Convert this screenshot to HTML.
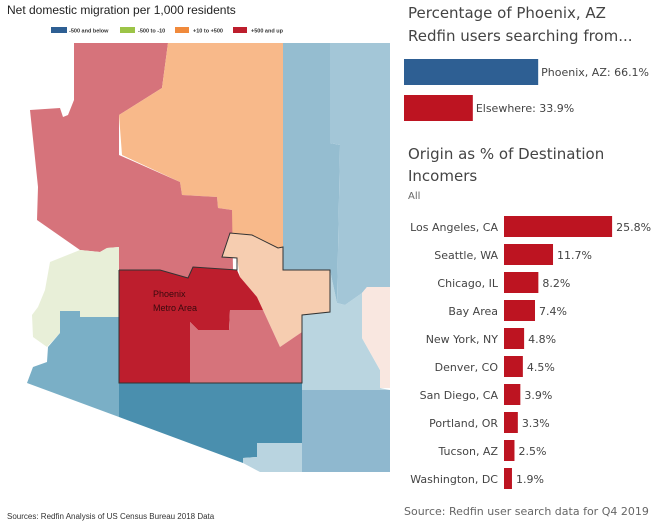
<!DOCTYPE html>
<html><head><meta charset="utf-8"><style>
body{margin:0;width:664px;height:527px;background:#fff;overflow:hidden;font-family:"Liberation Sans",sans-serif}
svg{position:absolute;left:0;top:0}
</style></head><body>
<svg width="664" height="527">
<text x="7" y="14" font-size="12" fill="#222">Net domestic migration per 1,000 residents</text>
<g font-size="5.5" font-weight="bold" fill="#333">
<rect x="51" y="27" width="16" height="6" fill="#2e5f93"/><text x="69" y="32.5">-500 and below</text>
<rect x="120" y="27" width="15" height="6" fill="#9cc447"/><text x="138" y="32.5">-500 to -10</text>
<rect x="175" y="27" width="14" height="6" fill="#f08a3c"/><text x="193" y="32.5">+10 to +500</text>
<rect x="233" y="27" width="14" height="6" fill="#bd1e2d"/><text x="251" y="32.5">+500 and up</text>
</g>
<g>
<polygon fill="#d6737b" points="74,43 168,43 162,88 127,110 119,115 119,247 107,248 100,252 80,250 37,220 38,187 30,110 60,108 63,117 68,115 74,100"/>
<polygon fill="#f8b98a" points="168,43 283,43 283,247 278,248 252,235 230,233 232,210 218,208 217,197 182,195 180,182 122,155 119,115 127,110 162,88"/>
<polygon fill="#d6737b" points="119,155 180,182 182,195 217,197 218,208 232,210 233,270 193,267 188,278 160,270 119,270"/>
<polygon fill="#f6cdb0" points="230,233 252,235 278,248 283,247 283,270 330,270 330,312 302,315 302,332 280,347 257,297 240,277 237,258 222,257"/>
<polygon fill="#bd1e2d" points="119,270 160,270 188,278 193,267 237,270 240,277 257,297 263,310 230,310 229,330 198,330 190,322 190,383 119,383"/>
<polygon fill="#d6737b" points="190,322 198,330 229,330 230,310 263,310 280,347 302,332 302,383 190,383"/>
<polygon fill="#e8efd8" points="119,247 119,317 80,317 80,311 60,311 60,333 47,347 33,337 32,315 38,307 45,290 50,262 80,250 100,252 107,248"/>
<polygon fill="#7aafc6" points="60,311 80,311 80,317 119,317 119,417 27,383 33,367 47,362 48,347 60,333"/>
<polygon fill="#4a8fae" points="119,383 302,383 302,443 257,443 257,457 243,458 243,463 119,417"/>
<polygon fill="#b9d4e0" points="257,443 302,443 302,472 260,472 243,463 243,458 257,457"/>
<polygon fill="#8fb8cf" points="302,390 390,390 390,472 302,472"/>
<polygon fill="#bad5e0" points="302,315 330,312 330,270 337,303 345,305 362,293 362,338 380,370 380,388 390,390 302,390"/>
<polygon fill="#95bdd0" points="283,43 330,43 330,143 340,145 337,303 330,270 283,270"/>
<polygon fill="#a3c6d7" points="330,43 390,43 390,287 367,287 362,293 345,305 337,303 340,145 330,143"/>
<polygon fill="#f9e7e0" points="362,293 367,287 390,287 390,388 380,388 380,370 362,338"/>
<polyline fill="none" stroke="#333" stroke-width="1" points="119,270 160,270 188,278 193,267 237,270 237,258 222,257 230,233 252,235 278,248 283,247 283,270 330,270 330,312 302,315 302,383 119,383 119,270"/>
<text x="153" y="297" font-size="9" fill="#3a0a0e">Phoenix</text>
<text x="153" y="311" font-size="9" fill="#3a0a0e">Metro Area</text>
</g>
<text x="7" y="519" font-size="8" fill="#333">Sources: Redfin Analysis of US Census Bureau 2018 Data</text>
<g font-family="'DejaVu Sans',sans-serif" fill="#444">
<text x="408" y="18" font-size="15">Percentage of Phoenix, AZ</text>
<text x="408" y="41" font-size="15">Redfin users searching from...</text>
<text x="408" y="159" font-size="15">Origin as % of Destination</text>
<text x="408" y="181" font-size="15">Incomers</text>
<text x="408" y="199" font-size="10" fill="#666">All</text>
<text x="404" y="515" font-size="11" fill="#666">Source: Redfin user search data for Q4 2019</text>
</g>
<g id="share" font-family="'DejaVu Sans',sans-serif" font-size="11" fill="#444"></g>
<g id="bars" font-family="'DejaVu Sans',sans-serif" font-size="11" fill="#444"></g>
</svg>
<script>
const shareLabels=["Phoenix, AZ","Elsewhere"];
const shareValues=[66.1,33.9];
const shareColors=["#2e5f93","#bd1421"];
const cities=["Los Angeles, CA","Seattle, WA","Chicago, IL","Bay Area","New York, NY","Denver, CO","San Diego, CA","Portland, OR","Tucson, AZ","Washington, DC"];
const cityValues=[25.8,11.7,8.2,7.4,4.8,4.5,3.9,3.3,2.5,1.9];
const NS="http://www.w3.org/2000/svg";
function mk(t,a){const e=document.createElementNS(NS,t);for(const k in a)e.setAttribute(k,a[k]);return e;}
const sx=v=>404+v*2.03, sy=i=>59+i*36;
const sg=document.getElementById('share');
shareValues.forEach((v,i)=>{
 const r=mk('rect',{x:404,y:sy(i),width:sx(v)-404,height:26,fill:shareColors[i]});
 
 
 sg.appendChild(r);
 const t=mk('text',{x:sx(v)+3,y:sy(i)+17});
 
 
 t.textContent=shareLabels[i]+": "+v.toFixed(1)+"%";sg.appendChild(t);
});
const bx=v=>504+v*4.19, by=i=>216+i*28;
const bg=document.getElementById('bars');
cities.forEach((c,i)=>{
 const r=mk('rect',{x:504,y:by(i),width:bx(cityValues[i])-504,height:21,fill:"#bd1421"});
 
 
 bg.appendChild(r);
 const l=mk('text',{x:498,y:by(i)+15,'text-anchor':'end'});
 
 
 l.textContent=c;bg.appendChild(l);
 const v=mk('text',{x:bx(cityValues[i])+4,y:by(i)+15});
 
 
 v.textContent=cityValues[i].toFixed(1)+"%";bg.appendChild(v);
});
</script>
</body></html>
